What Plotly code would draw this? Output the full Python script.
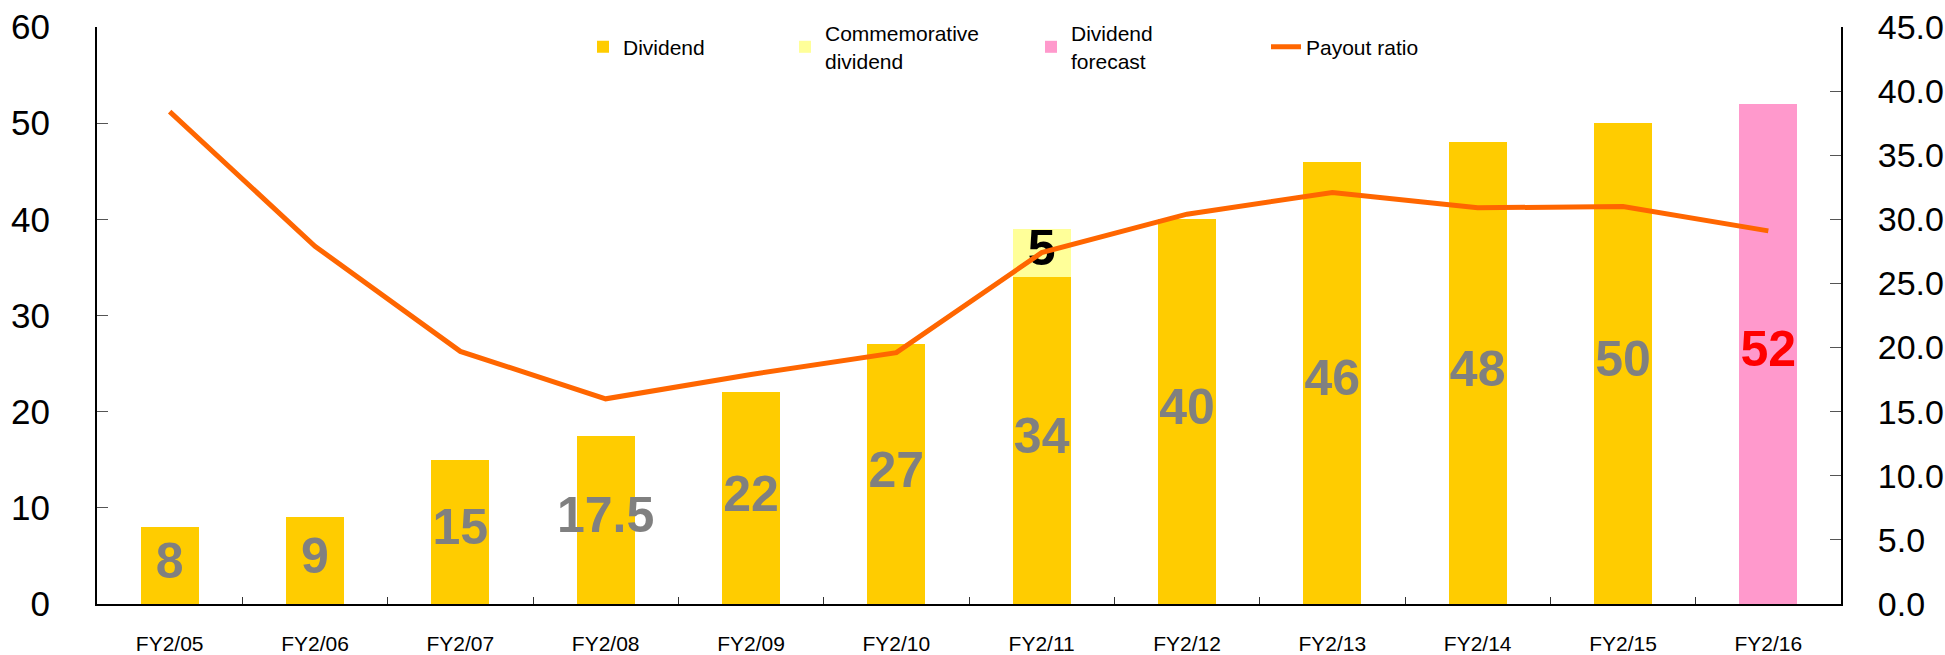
import plotly.graph_objects as go

categories = ["FY2/05", "FY2/06", "FY2/07", "FY2/08", "FY2/09", "FY2/10",
              "FY2/11", "FY2/12", "FY2/13", "FY2/14", "FY2/15", "FY2/16"]
dividend = [8, 9, 15, 17.5, 22, 27, 34, 40, 46, 48, 50, None]
commemorative = [None, None, None, None, None, None, 5, None, None, None, None, None]
forecast = [None, None, None, None, None, None, None, None, None, None, None, 52]
payout_ratio = [38.4, 27.9, 19.7, 16.0, 17.9, 19.6, 27.4, 30.4, 32.1, 30.9, 31.0, 29.1]

dividend_labels = ["8", "9", "15", "17.5", "22", "27", "34", "40", "46", "48", "50", ""]

FONT = "Liberation Sans, Arial, Helvetica, sans-serif"
C_DIV = "#FFCC00"
C_COM = "#FFFF99"
C_FC = "#FF99CC"
C_LINE = "#FF6600"

fig = go.Figure()

fig.add_trace(go.Bar(x=categories, y=dividend, name="Dividend", legend="legend",
                     marker=dict(color=C_DIV, line=dict(width=0)), width=0.4))
fig.add_trace(go.Bar(x=categories, y=commemorative, name="Commemorative<br>dividend",
                     legend="legend2",
                     marker=dict(color=C_COM, line=dict(width=0)), width=0.4))
fig.add_trace(go.Bar(x=categories, y=forecast, name="Dividend<br>forecast", legend="legend3",
                     marker=dict(color=C_FC, line=dict(width=0)), width=0.4))

# value labels centred in each bar segment
div_mid = [v / 2 if v is not None else None for v in dividend]
fig.add_trace(go.Scatter(x=categories, y=div_mid, mode="text", text=dividend_labels,
                         textposition="middle center", showlegend=False, hoverinfo="skip",
                         textfont=dict(family=FONT, size=50, color="#808080", weight="bold")))
com_mid = [d + c / 2 if (c is not None and d is not None) else None
           for d, c in zip(dividend, commemorative)]
com_text = [str(c) if c is not None else "" for c in commemorative]
fig.add_trace(go.Scatter(x=categories, y=com_mid, mode="text", text=com_text,
                         textposition="middle center", showlegend=False, hoverinfo="skip",
                         textfont=dict(family=FONT, size=50, color="#000000", weight="bold")))
fc_mid = [f / 2 if f is not None else None for f in forecast]
fc_text = [str(f) if f is not None else "" for f in forecast]
fig.add_trace(go.Scatter(x=categories, y=fc_mid, mode="text", text=fc_text,
                         textposition="middle center", showlegend=False, hoverinfo="skip",
                         textfont=dict(family=FONT, size=50, color="#FF0000", weight="bold")))

fig.add_trace(go.Scatter(x=categories, y=payout_ratio, name="Payout ratio", mode="lines",
                         legend="legend4",
                         line=dict(color=C_LINE, width=5), yaxis="y2"))

W, H = 1945, 655


def leg(xpx):
    return dict(orientation="v", xref="container", yref="container",
                x=xpx / W, xanchor="left", y=1 - 47 / H, yanchor="middle",
                font=dict(family=FONT, size=21, color="#000000"),
                bgcolor="rgba(0,0,0,0)", valign="middle")


fig.update_layout(
    width=W, height=H,
    paper_bgcolor="white", plot_bgcolor="white",
    margin=dict(l=97, r=104, t=27, b=51, autoexpand=False),
    barmode="stack",
    font=dict(family=FONT, color="#000000"),
    showlegend=True,
    legend=leg(583), legend2=leg(785), legend3=leg(1031), legend4=leg(1266),
    xaxis=dict(type="category", showgrid=False, showline=True, linecolor="#000000",
               linewidth=2, ticks="inside", tickson="boundaries", ticklen=7,
               tickcolor="#333333", tickfont=dict(family=FONT, size=21, color="#000000"),
               ticklabelstandoff=20, range=[-0.5, 11.5], zeroline=False),
    yaxis=dict(range=[0, 60], dtick=10, showgrid=False, showline=True,
               linecolor="#000000", linewidth=2, ticks="inside", ticklen=11,
               tickcolor="#555555", tickfont=dict(family=FONT, size=35, color="#000000"),
               ticklabelstandoff=38, zeroline=False),
    yaxis2=dict(range=[0, 45], dtick=5, tickformat=".1f", overlaying="y", side="right",
                showgrid=False, showline=True, linecolor="#000000", linewidth=2,
                ticks="inside", ticklen=11, tickcolor="#555555",
                tickfont=dict(family=FONT, size=34, color="#000000"),
                ticklabelstandoff=28, zeroline=False),
)

fig.write_html("out.html", config={"displayModeBar": False},
               post_script="document.body.style.margin='0px';document.body.style.overflow='hidden';")
